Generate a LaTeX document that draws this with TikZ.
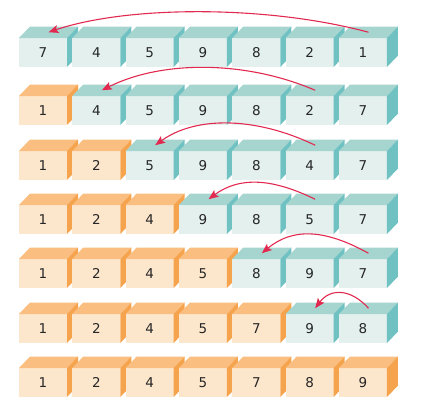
\documentclass[tikz,border=0pt]{standalone}
\usepackage{fontspec}
\setmainfont{DejaVu Sans}
\usetikzlibrary{arrows.meta,calc}
\definecolor{Tfront}{RGB}{227,240,238}
\definecolor{Ttop}{RGB}{166,213,208}
\definecolor{Tside}{RGB}{112,193,194}
\definecolor{Ofront}{RGB}{253,231,204}
\definecolor{Otop}{RGB}{249,190,128}
\definecolor{Oside}{RGB}{246,163,78}
\definecolor{arrowred}{RGB}{226,42,80}
\tikzset{
  face/.style={anchor=north west, minimum width=48pt, minimum height=29pt,
    inner sep=0pt, outer sep=0pt, font=\fontsize{13.5}{15}\selectfont, text=black!85},
  swaparrow/.style={draw=arrowred, line width=1.1pt,
    -{Stealth[length=10pt,width=8pt,inset=2pt]}}
}
\newcommand\mycube[5]{%
  \node[face, fill=#5front] (#1) at (#2,#3) {#4};
  \fill[#5top] (#1.north west) -- (#1.north east) -- ++(11,-11.5) -- ++(-48,0) -- cycle;
  \fill[#5side] (#1.north east) -- ++(11,-11.5) -- ++(0,29) -- (#1.south east) -- cycle;
  \coordinate (#1t) at ($(#1.north)+(5.5,-5.75)$);
}
\begin{document}
\begin{tikzpicture}[x=1pt,y=-1pt]
\useasboundingbox (0,0) rectangle (435,405);
% rows: name prefix, front-top y, labels, number of orange cubes
\foreach \r/\yy/\labs/\no in {
  1/38/{7,4,5,9,8,2,1}/0,
  2/96/{1,4,5,9,8,2,7}/1,
  3/151/{1,2,5,9,8,4,7}/2,
  4/205/{1,2,4,9,8,5,7}/3,
  5/259/{1,2,4,5,8,9,7}/4,
  6/314/{1,2,4,5,7,9,8}/5,
  7/368/{1,2,4,5,7,8,9}/7}{
  \foreach \lab [count=\c] in \labs {
    \pgfmathsetmacro{\xx}{19+53.33*(\c-1)}
    \ifnum\c>\no\relax
      \mycube{r\r c\c}{\xx}{\yy}{\lab}{T}
    \else
      \mycube{r\r c\c}{\xx}{\yy}{\lab}{O}
    \fi
  }
}
\draw[swaparrow] (r1c7t) .. controls +(-100,-27) and +(80,-27) .. (r1c1t);
\draw[swaparrow] (r2c6t) .. controls +(-70,-30) and +(60,-30) .. (r2c2t);
\draw[swaparrow] (r3c6t) .. controls +(-60,-29) and +(40,-29) .. (r3c3t);
\draw[swaparrow] (r4c6t) .. controls +(-45,-22) and +(30,-22) .. (r4c4t);
\draw[swaparrow] (r5c7t) .. controls +(-45,-25) and +(30,-25) .. (r5c5t);
\draw[swaparrow] (r6c7t) .. controls +(-18,-20) and +(15,-20) .. (r6c6t);
\end{tikzpicture}
\end{document}
